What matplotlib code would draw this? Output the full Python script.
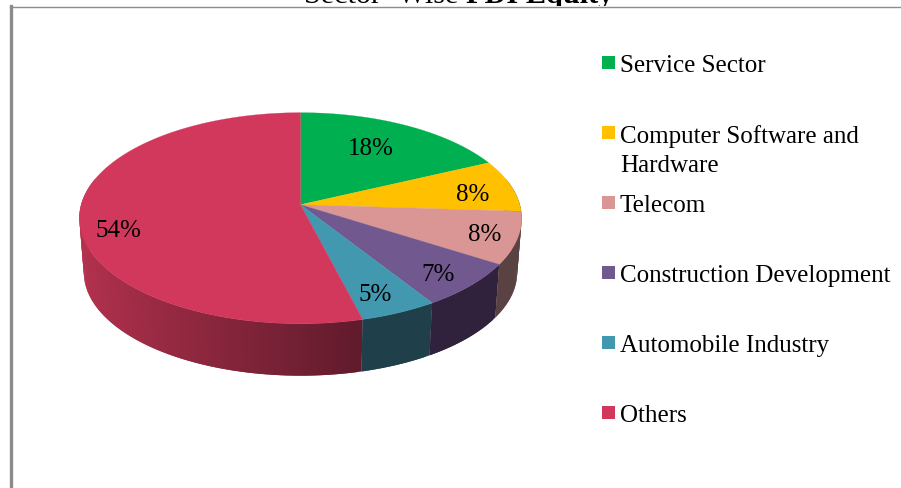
import numpy as np
import matplotlib
matplotlib.use("Agg")
import matplotlib.pyplot as plt
from matplotlib.colors import to_rgb
from matplotlib.patches import Polygon, Rectangle

plt.rcParams['font.family'] = ['Liberation Serif']

# FDI equity share per sector
sectors = ['Service Sector', 'Computer Software and\nHardware', 'Telecom',
           'Construction Development', 'Automobile Industry', 'Others']
shares = [18, 8, 8, 7, 5, 54]
share_labels = ['18%', '8%', '8%', '7%', '5%', '54%']
colors = ['#00b050', '#ffc000', '#d99694', '#71588f', '#4198af', '#d1385c']
side_colors = ['#006b30', '#5a4242', '#5a4242', '#30223c', '#1f3f4a', '#b5324f']

# where the pie sits on the canvas, in pixels
cx, cy = 300.5, 205.7
rx, ry = 219.3, 103.8
tilt = 0.128
bottom_cx, bottom_cy, bottom_scale = 300.5, 260, 0.98

fig = plt.figure(figsize=(9.01, 4.89), dpi=100)
ax = fig.add_axes([0, 0, 1, 1])
ax.set_xlim(0, 901)
ax.set_ylim(489, 0)
ax.axis('off')


def project(theta, x0=cx, y0=cy, scale=1.0):
    # circle point -> screen, with a bit of perspective
    u = np.cos(theta)
    v = np.sin(theta)
    d = 1 + tilt * v
    return x0 + scale * rx * u / d, y0 - scale * ry * v / d


# title sits behind the chart area, so its descenders stop at the frame
ax.text(466, 3, 'Sector- Wise ', fontsize=21.8, ha='right', va='baseline', clip_on=False, zorder=0)
ax.text(466, 3, 'FDI Equity', fontsize=21.8, weight='bold', ha='left', va='baseline', clip_on=False, zorder=0)
ax.add_patch(Rectangle((10, 7), 891, 482, fc='white', ec='none', zorder=0.5))

# chart frame, only the top and left borders show
ax.plot([10, 901], [7.5, 7.5], color='#8c8c8c', lw=1.0, zorder=1)
ax.plot([11, 11], [7, 489], color='#8c8c8c', lw=2.4, zorder=1)

fracs = np.cumsum([0] + shares) / sum(shares)
angles = np.pi / 2 - 2 * np.pi * fracs

# outer wall; each strip runs under the next one so no seams show
for i in range(len(shares)):
    a0, a1 = angles[i], angles[i + 1]
    n = max(int(abs(a1 - a0) / 0.02), 2)
    t = np.linspace(a0, a1, n + 1)
    for j in range(n):
        tm = (t[j] + t[j + 1]) / 2
        if np.sin(tm) > 0.25:
            continue
        seg = np.linspace(t[j], a1 if j + 2 > n else t[j + 2], 4)
        xa, ya = project(seg)
        xb, yb = project(seg, x0=bottom_cx, y0=bottom_cy, scale=bottom_scale)
        col = np.array(to_rgb(side_colors[i]))
        if i == 5:
            # lighter on the left, dark by the front
            f = np.clip((np.cos(tm) + 1) / 1.28, 0, 1)
            col = col * (1 - f) + np.array(to_rgb('#5e1a2b')) * f
        pts = np.column_stack([np.r_[xa, xb[::-1]], np.r_[ya, yb[::-1]]])
        ax.add_patch(Polygon(pts, closed=True, fc=col, ec='none', zorder=2 + j * 0.0001))

# top face
for i in range(len(shares)):
    t = np.linspace(angles[i], angles[i + 1], 200)
    x, y = project(t)
    pts = np.column_stack([np.r_[cx, x], np.r_[cy, y]])
    ax.add_patch(Polygon(pts, closed=True, fc=colors[i], ec=colors[i], lw=0.2, zorder=3))

# percentage labels
label_x = [371, 473, 485, 438, 375, 118]
label_y = [149, 195, 235, 275, 295, 231]
for lab, lx, ly in zip(share_labels, label_x, label_y):
    ax.text(lx, ly, lab, fontsize=18, ha='center', va='center', color='black', zorder=5)

# legend
legend_y = [63, 133, 203, 273, 343, 413]
for name, col, ly in zip(sectors, colors, legend_y):
    ax.add_patch(Rectangle((602, ly - 6.5), 13, 13, fc=col, ec='none', zorder=4))
    ax.text(620, ly - 8, name, fontsize=18, ha='left', va='top', color='black',
            linespacing=1.44, zorder=5)

fig.savefig('out.png', dpi=100)
